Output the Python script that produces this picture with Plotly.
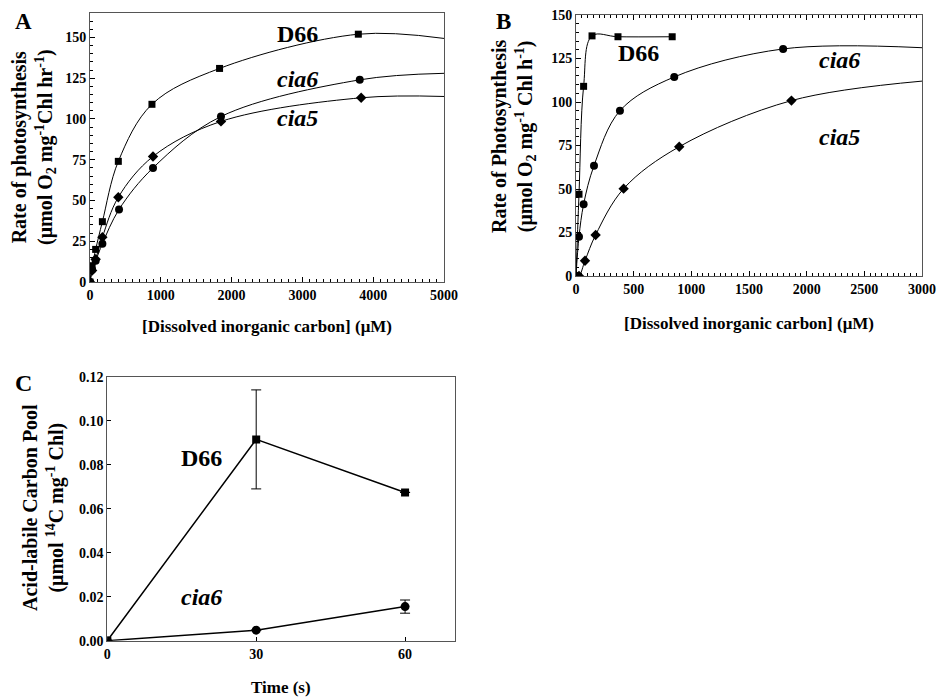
import plotly.graph_objects as go

# ---------------- Data ----------------
# Panel A
a_d66_x = [0, 30, 80, 175, 400, 875, 1830, 3790]
a_d66_y = [0, 10, 20, 37, 74, 109, 131, 152]
a_cia6_x = [0, 30, 80, 175, 410, 890, 1850, 3810]
a_cia6_y = [0, 7.5, 13, 23.5, 44.5, 70, 101.5, 124]
a_cia5_x = [0, 30, 80, 175, 400, 890, 1850, 3830]
a_cia5_y = [0, 7, 14, 27.5, 52, 77, 98.5, 113]
# fitted-curve end values at x = 5000
a_fit_end_x = 5000
a_d66_fit_end = 149.4
a_cia6_fit_end = 128
a_cia5_fit_end = 113.8

# Panel B
b_d66_x = [0, 26, 66, 139, 364, 834]
b_d66_y = [0, 47, 109, 138, 137.5, 137.5]
b_cia6_x = [0, 26, 66, 156, 381, 852, 1796]
b_cia6_y = [0, 22.6, 41.2, 63.4, 95, 114.4, 130.5]
b_cia5_x = [0, 26, 78, 170, 413, 895, 1868]
b_cia5_y = [0, 0, 8.8, 23.6, 50.2, 74.3, 100.8]
b_fit_end_x = 3000
b_cia6_fit_end = 131.2
b_cia5_fit_end = 112

# Panel C
c_time = [0, 30, 60]
c_d66 = [0, 0.0915, 0.0674]
c_d66_err = [0, 0.0225, 0]
c_cia6 = [0, 0.0048, 0.0155]
c_cia6_err = [0, 0, 0.003]

FONT = "Liberation Serif"
OFF = 8  # page body margin
W, H = 945 - OFF, 699 - OFF


def px_x(p):
    return (p - OFF) / W


def px_y(p):
    return 1 - (p - OFF) / H


fig = go.Figure()

line_style = dict(color="black", width=1)


def add_curve(x, y, xa, ya):
    fig.add_trace(go.Scatter(x=x, y=y, mode="lines", line=dict(shape="spline", smoothing=1.0, **line_style),
                             xaxis=xa, yaxis=ya, showlegend=False, hoverinfo="skip"))


def add_markers(x, y, xa, ya, symbol, size):
    fig.add_trace(go.Scatter(x=x, y=y, mode="markers",
                             marker=dict(symbol=symbol, size=size, color="black"),
                             xaxis=xa, yaxis=ya, showlegend=False))


# Panel A
add_curve(a_d66_x + [a_fit_end_x], a_d66_y + [a_d66_fit_end], "x", "y")
add_curve(a_cia6_x + [a_fit_end_x], a_cia6_y + [a_cia6_fit_end], "x", "y")
add_curve(a_cia5_x + [a_fit_end_x], a_cia5_y + [a_cia5_fit_end], "x", "y")
add_markers(a_d66_x, a_d66_y, "x", "y", "square", 7)
add_markers(a_cia6_x, a_cia6_y, "x", "y", "circle", 8)
add_markers(a_cia5_x, a_cia5_y, "x", "y", "diamond", 8)

# Panel B
add_curve(b_d66_x, b_d66_y, "x2", "y2")
add_curve(b_cia6_x + [b_fit_end_x], b_cia6_y + [b_cia6_fit_end], "x2", "y2")
add_curve(b_cia5_x + [b_fit_end_x], b_cia5_y + [b_cia5_fit_end], "x2", "y2")
add_markers(b_d66_x, b_d66_y, "x2", "y2", "square", 7)
add_markers(b_cia6_x, b_cia6_y, "x2", "y2", "circle", 8)
add_markers(b_cia5_x, b_cia5_y, "x2", "y2", "diamond", 8)

# Panel C
fig.add_trace(go.Scatter(x=c_time, y=c_d66, mode="lines+markers",
                         line=dict(color="black", width=1.5),
                         marker=dict(symbol="square", size=8, color="black"),
                         error_y=dict(type="data", array=c_d66_err, color="black", thickness=1, width=5),
                         xaxis="x3", yaxis="y3", showlegend=False))
fig.add_trace(go.Scatter(x=c_time, y=c_cia6, mode="lines+markers",
                         line=dict(color="black", width=1.5),
                         marker=dict(symbol="circle", size=9, color="black"),
                         error_y=dict(type="data", array=c_cia6_err, color="black", thickness=1, width=5),
                         xaxis="x3", yaxis="y3", showlegend=False))

tickfont = dict(family=FONT, size=14, color="black", weight="bold")
frame = dict(showline=True, linecolor="#555", linewidth=1, showgrid=False, zeroline=False,
             ticks="inside", tickcolor="black", tickfont=tickfont, automargin=False,
             ticklabeloverflow="allow")

fig.update_layout(
    template="none",
    width=W, height=H,
    margin=dict(l=0, r=0, t=0, b=0),
    plot_bgcolor="white", paper_bgcolor="white",
    xaxis=dict(domain=[px_x(90), px_x(444)], anchor="y", range=[0, 5000], dtick=1000, ticklen=5,
               minor=dict(dtick=100, ticklen=3, ticks="inside", tickcolor="black"), mirror=True, **frame),
    yaxis=dict(domain=[px_y(282), px_y(13)], anchor="x", range=[0, 165], dtick=25, ticklen=5,
               minor=dict(dtick=5, ticklen=3, ticks="inside", tickcolor="black"), mirror=True, **frame),
    xaxis2=dict(domain=[px_x(576), px_x(922)], anchor="y2", range=[0, 3000], dtick=500, ticklen=5,
                minor=dict(dtick=50, ticklen=3, ticks="inside", tickcolor="black"), mirror="ticks", **frame),
    yaxis2=dict(domain=[px_y(276), px_y(15)], anchor="x2", range=[0, 150], dtick=25, ticklen=5,
                minor=dict(dtick=5, ticklen=3, ticks="inside", tickcolor="black"), mirror=True, **frame),
    xaxis3=dict(domain=[px_x(107.3), px_x(454.7)], anchor="y3", range=[0, 70], tickvals=[0, 30, 60], ticklen=4,
                mirror=True, **frame),
    yaxis3=dict(domain=[px_y(640.7), px_y(376.7)], anchor="x3", range=[0, 0.12], dtick=0.02, tickformat=".2f",
                ticklen=4, mirror=True, **frame),
)

ann = []


def paper_text(text, x, y, size, angle=0, xanchor="center", yanchor="middle"):
    ann.append(dict(text=text, x=px_x(x), y=px_y(y), xref="paper", yref="paper", showarrow=False,
                    textangle=angle, xanchor=xanchor, yanchor=yanchor,
                    font=dict(family=FONT, size=size, color="black", weight="bold")))


def data_text(text, x, y, xr, yr, size):
    ann.append(dict(text=text, x=x, y=y, xref=xr, yref=yr, showarrow=False,
                    font=dict(family=FONT, size=size, color="black", weight="bold")))


# Panel letters
paper_text("A", 23, 22, 23)
paper_text("B", 503, 22, 23)
paper_text("C", 23, 383, 24)

# Axis titles
paper_text("[Dissolved inorganic carbon] (μM)", 267, 326, 17)
paper_text("[Dissolved inorganic carbon] (μM)", 749, 323, 17)
paper_text("Time (s)", 281, 687, 17)
paper_text("Rate of photosynthesis<br>(μmol O<sub>2</sub> mg<sup>-1</sup>Chl hr<sup>-1</sup>)", 34, 147, 20, angle=-90)
paper_text("Rate of Photosynthesis<br>(μmol O<sub>2</sub> mg<sup>-1</sup> Chl h<sup>-1</sup>)", 513, 136, 20, angle=-90)
paper_text("Acid-labile Carbon Pool<br>(μmol <sup>14</sup>C mg<sup>-1</sup> Chl)", 43, 508, 20, angle=-90)

# Series labels
data_text("D66", 2931, 152, "x", "y", 24)
data_text("<i>cia6</i>", 2931, 124.5, "x", "y", 24)
data_text("<i>cia5</i>", 2931, 100.5, "x", "y", 24)
data_text("D66", 538, 128, "x2", "y2", 24)
data_text("<i>cia6</i>", 2281, 124, "x2", "y2", 24)
data_text("<i>cia5</i>", 2281, 80, "x2", "y2", 24)
data_text("D66", 19, 0.0829, "x3", "y3", 24)
data_text("<i>cia6</i>", 19, 0.020, "x3", "y3", 24)

fig.update_layout(annotations=ann)
fig.write_html("out.html")
